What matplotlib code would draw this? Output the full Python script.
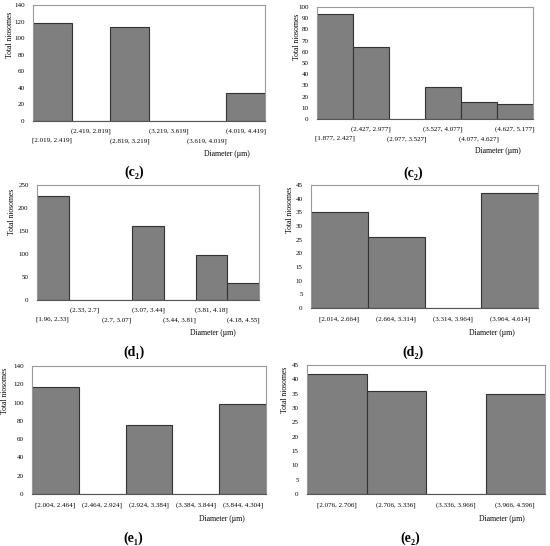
import matplotlib
matplotlib.use("Agg")
import matplotlib.pyplot as plt

plt.rcParams["font.family"] = ["Liberation Serif", "DejaVu Serif"]

# panel c2 (left)
c2a_bins = ["[2.019, 2.419]", "(2.419, 2.819]", "(2.819, 3.219]",
            "(3.219, 3.619]", "(3.619, 4.019]", "(4.019, 4.419]"]
c2a_counts = [118, 0, 113, 0, 0, 34]

# panel c2 (right)
c2b_bins = ["[1.877, 2.427]", "(2.427, 2.977]", "(2.977, 3.527]",
            "(3.527, 4.077]", "(4.077, 4.627]", "(4.627, 5.177]"]
c2b_counts = [94, 64, 0, 29, 15, 13]

# panel d1
d1_bins = ["[1.96, 2.33]", "(2.33, 2.7]", "(2.7, 3.07]", "(3.07, 3.44]",
           "(3.44, 3.81]", "(3.81, 4.18]", "(4.18, 4.55]"]
d1_counts = [227, 0, 0, 160, 0, 97, 36]

# panel d2
d2_bins = ["[2.014, 2.664]", "(2.664, 3.314]", "(3.314, 3.964]", "(3.964, 4.614]"]
d2_counts = [35, 26, 0, 42]

# panel e1
e1_bins = ["[2.004, 2.464]", "(2.464, 2.924]", "(2.924, 3.384]",
           "(3.384, 3.844]", "(3.844, 4.304]"]
e1_counts = [117, 0, 75, 0, 98]

# panel e2
e2_bins = ["[2.076, 2.706]", "(2.706, 3.336]", "(3.336, 3.966]", "(3.966, 4.596]"]
e2_counts = [42, 36, 0, 35]

W, H = 550, 546
fig = plt.figure(figsize=(W / 100, H / 100), dpi=100)


def px_axes(left, right, top, bottom):
    return fig.add_axes([left / W, 1 - bottom / H, (right - left) / W, (bottom - top) / H])


def panel(box, bins, counts, ymax, ystep, stagger, ylab_xy, xlab_xy, tag, tag_xy):
    ax = px_axes(*box)
    x = list(range(len(bins)))
    ax.bar(x, counts, width=1.0, color="#7f7f7f", edgecolor="#333333", linewidth=0.8)
    ax.set_xlim(-0.5, len(bins) - 0.5)
    ax.set_ylim(0, ymax)
    ax.set_yticks(range(0, ymax + 1, ystep))
    ax.set_xticks([])
    ax.tick_params(axis="y", length=0, labelsize=5, pad=6)
    for s in ax.spines.values():
        s.set_color("#9a9a9a")
        s.set_linewidth(0.8)
    ax.spines["bottom"].set_color("#555555")
    # staggered category labels like the spreadsheet output
    for i, lab in enumerate(bins):
        if stagger:
            off = -5 if i % 2 == 1 else -12
        else:
            off = -6
        ax.annotate(lab, xy=(i, 0), xycoords=("data", "axes fraction"),
                    xytext=(0, off), textcoords="offset points",
                    ha="center", va="top", fontsize=5)
    fig.text(ylab_xy[0] / W, 1 - ylab_xy[1] / H, "Total niosomes",
             rotation=90, ha="center", va="center", fontsize=5.5)
    fig.text(xlab_xy[0] / W, 1 - xlab_xy[1] / H, "Diameter (µm)",
             ha="center", va="center", fontsize=5.5)
    fig.text(tag_xy[0] / W, 1 - tag_xy[1] / H, tag,
             ha="center", va="center", fontsize=10, fontweight="bold")
    return ax


panel((33, 265, 5, 121), c2a_bins, c2a_counts, 140, 20, True,
      (10, 35), (227, 154), "(c₂)", (134, 172))
panel((317, 533, 7, 119), c2b_bins, c2b_counts, 100, 10, True,
      (297, 37), (498, 151), "(c₂)", (413, 173))
panel((37, 259, 185, 300), d1_bins, d1_counts, 250, 50, True,
      (12, 212), (213, 333), "(d₁)", (134, 352))
panel((311, 538, 185, 308), d2_bins, d2_counts, 45, 5, False,
      (290, 210), (492, 333), "(d₂)", (413, 352))
panel((32, 266, 366, 494), e1_bins, e1_counts, 140, 20, False,
      (5, 391), (222, 519), "(e₁)", (133, 538))
panel((307, 545, 365, 494), e2_bins, e2_counts, 45, 5, False,
      (285, 390), (502, 519), "(e₂)", (410, 538))

fig.savefig("out.png", dpi=100)
